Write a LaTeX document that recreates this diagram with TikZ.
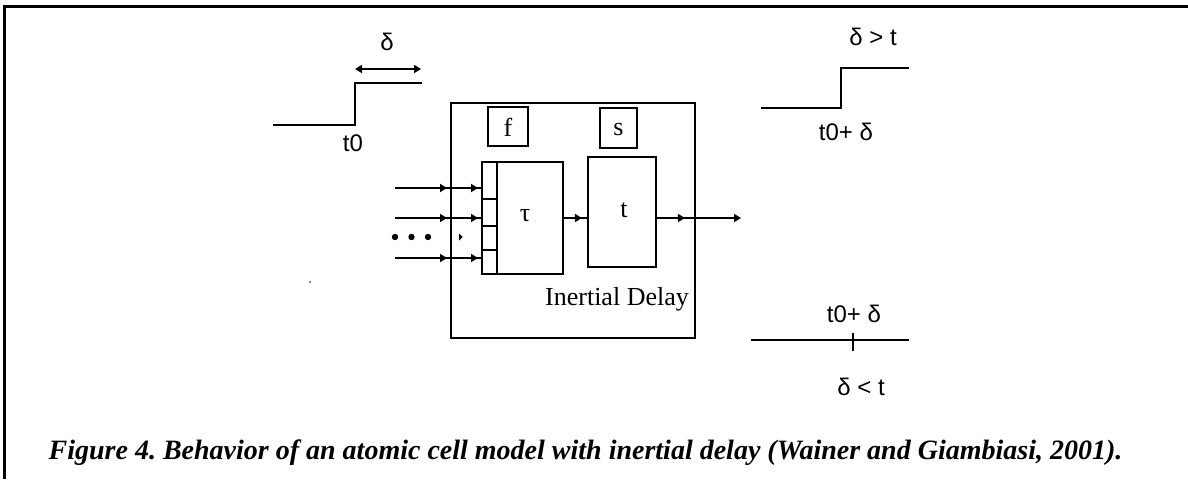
\documentclass[tikz,border=0pt]{standalone}
\usepackage{fontspec}
\setmainfont{Liberation Serif}
\newfontfamily\lsans{Liberation Sans}
\usetikzlibrary{arrows.meta,decorations.markings}
\begin{document}
\frenchspacing
\begin{tikzpicture}[x=1pt,y=-1pt,line width=1.8pt,
  blk/.style={draw,rectangle,inner sep=0pt,line width=1.8pt},
  sanslbl/.style={font=\lsans\fontsize{24}{26}\selectfont,inner sep=0pt},
  seriflbl/.style={font=\fontsize{26}{28}\selectfont,inner sep=0pt},
  tipat/.style={postaction={decorate,decoration={markings,
      mark=at position #1 with {\arrow{Triangle[length=7pt,width=8pt]}}}}},
  endtip/.style={-{Triangle[length=7pt,width=8pt]}},
]
\useasboundingbox (0,0) rectangle (1188,479);
\fill[white] (0,0) rectangle (1188,479);
% frame
\draw[line width=3pt] (2.5,6) -- (1188,6);
\draw[line width=3pt] (4,6) -- (4,479);

% input signal
\draw (273,125) -- (355,125) -- (355,83) -- (422,83);
\draw[{Triangle[length=7pt,width=8pt]}-{Triangle[length=7pt,width=8pt]}] (355,69) -- (421,69);
\node[sanslbl] (dlt) at (387,42) {δ};
\node[sanslbl] (t0) at (353,143) {t0};

% cell
\node[blk,minimum width=244pt,minimum height=235pt] (cell) at (573,220.5) {};
\node[blk,minimum width=40pt,minimum height=39pt] (fbox) at (508,126.5) {};
\node[seriflbl] (flbl) at (508,127) {f};
\node[blk,minimum width=37pt,minimum height=40pt] (sbox) at (618.5,128) {};
\node[seriflbl] (slbl) at (618.5,129) {s};
\node[blk,minimum width=81pt,minimum height=112pt] (tau) at (522.5,218) {};
\draw (497,162) -- (497,274);
\draw (482,199) -- (497,199);
\draw (482,226) -- (497,226);
\draw (482,250) -- (497,250);
\node[seriflbl] (taulbl) at (525,216) {τ};
\node[blk,minimum width=68pt,minimum height=110pt] (tblk) at (622,212) {};
\node[seriflbl] (tlbl) at (624,210) {t};
\node[seriflbl,anchor=base] (inert) at (617,305) {Inertial Delay};

% inputs
\coordinate (in1) at (395,188);
\coordinate (in2) at (395,218);
\coordinate (in3) at (395,258);
\draw[tipat=52pt,tipat=83pt] (in1) -- (in1 -| tau.west);
\draw[tipat=52pt,tipat=83pt] (in2) -- (in2 -| tau.west);
\draw[tipat=52pt,tipat=83pt] (in3) -- (in3 -| tau.west);
\fill (395,237) circle (3.2);
\fill (411.5,237) circle (3.2);
\fill (428,237) circle (3.2);
\fill (459,233.5) -- (462.5,237) -- (459,240.5) -- cycle;
\fill (310,282) circle (0.8);

% internal and output
\draw[tipat=18pt] (tau.east) -- (tblk.west |- tau.east);
\coordinate (out) at (741,218);
\draw[tipat=28pt,endtip] (tblk.east |- tau.east) -- (out);

% right top
\draw (761,108) -- (841,108) -- (841,68) -- (909,68);
\node[sanslbl] (gt) at (873,37) {δ > t};
\node[sanslbl] (t0d1) at (846,132) {t0+ δ};

% right bottom
\draw (751,340) -- (909,340);
\draw (853,333) -- (853,351);
\node[sanslbl] (t0d2) at (854,314) {t0+ δ};
\node[sanslbl] (lt) at (861,387) {δ < t};

% caption
\node[font=\bfseries\itshape\fontsize{28}{32}\selectfont,anchor=base,inner sep=0pt] (cap) at (585.5,459)
  {Figure 4. Behavior of an atomic cell model with inertial delay (Wainer and Giambiasi, 2001).};
\end{tikzpicture}
\end{document}
